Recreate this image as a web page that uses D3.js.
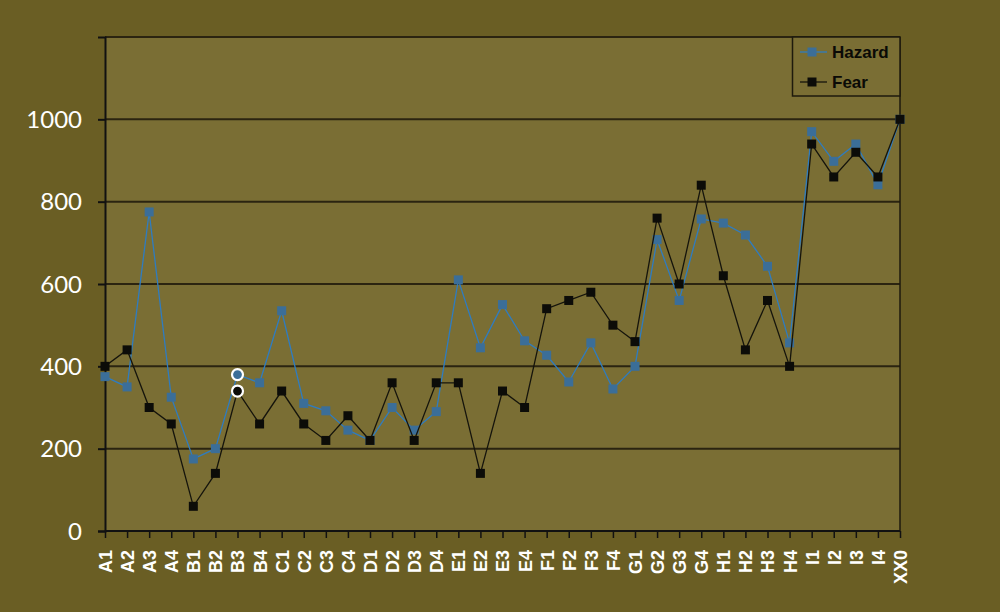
<!DOCTYPE html>
<html><head><meta charset="utf-8">
<script src="https://cdn.jsdelivr.net/npm/d3@7"></script>
<style>
html,body{margin:0;padding:0;background:#6a5e24;}
svg{display:block;}
</style></head>
<body>
<svg id="chart" width="1000" height="612"></svg>
<script>
const categories = ["A1","A2","A3","A4","B1","B2","B3","B4","C1","C2","C3","C4","D1","D2","D3","D4","E1","E2","E3","E4","F1","F2","F3","F4","G1","G2","G3","G4","H1","H2","H3","H4","I1","I2","I3","I4","XX0"];
const hazard = [375,350,775,325,175,200,380,360,535,310,292,245,220,300,245,290,610,445,550,462,427,362,457,345,400,708,560,758,748,719,643,457,970,898,940,841,1000];
const fear = [400,440,300,260,60,140,340,260,340,260,220,280,220,360,220,360,360,140,340,300,540,560,580,500,460,760,600,840,620,440,560,400,940,860,920,860,1000];
const yTicks = [0,200,400,600,800,1000];
const highlighted = ["B3"];
const seriesNames = ["Hazard","Fear"];

const svg = d3.select("#chart");
const L = 105, R = 900, T = 37, B = 531;
const x = d3.scalePoint().domain(categories).range([L, R]);
const y = d3.scaleLinear().domain([0, 1200]).range([B, T]);

svg.append("rect").attr("width",1000).attr("height",612).attr("fill","#6a5e24");
svg.append("rect").attr("x",L).attr("y",T).attr("width",R-L).attr("height",B-T).attr("fill","#7a6e34");

// gridlines
svg.append("g").selectAll("line").data(yTicks.filter(d=>d>0).concat([1200])).join("line")
  .attr("x1",L).attr("x2",R).attr("y1",d=>y(d)).attr("y2",d=>y(d))
  .attr("stroke","#2b2410").attr("stroke-width",2);
// right border
svg.append("line").attr("x1",R).attr("x2",R).attr("y1",T).attr("y2",B).attr("stroke","#1e1a0c").attr("stroke-width",1.5);

// y axis
const yAxis = svg.append("g").attr("transform",`translate(${L},0)`)
  .call(d3.axisLeft(y).tickValues(yTicks).tickSize(7).tickPadding(16).tickFormat(d3.format("d")));
yAxis.select(".domain").attr("stroke","#111").attr("stroke-width",2);
yAxis.selectAll(".tick line").attr("stroke","#111").attr("stroke-width",2);
yAxis.selectAll("text").attr("fill","#ffffff").attr("font-family","Lato, 'Open Sans', sans-serif")
  .attr("font-size",24).attr("dy","0.34em");

// x axis
const xAxis = svg.append("g").attr("transform",`translate(0,${B})`)
  .call(d3.axisBottom(x).tickSize(7).tickPadding(0));
xAxis.select(".domain").attr("stroke","#111").attr("stroke-width",2).attr("d",`M${L},0H${R}`);
xAxis.selectAll(".tick line").attr("stroke","#111").attr("stroke-width",1.5);
xAxis.selectAll("text")
  .attr("fill","#ffffff").attr("font-family","'Liberation Sans', Arial, sans-serif").attr("font-weight","bold")
  .attr("font-size",18).attr("text-anchor","end")
  .attr("transform","rotate(-90)").attr("x",-19).attr("y",0).attr("dy","0.36em");

// lines
const line = d3.line().x((d,i)=>x(categories[i])).y(d=>y(d));
function drawSeries(values, lineColor, markerColor, size){
  const g = svg.append("g");
  g.append("path").datum(values).attr("d",line).attr("fill","none").attr("stroke",lineColor).attr("stroke-width",1.3);
  g.selectAll("rect").data(values.map((v,i)=>({v,c:categories[i]})).filter(d=>!highlighted.includes(d.c))).join("rect")
    .attr("x",d=>x(d.c)-size/2).attr("y",d=>y(d.v)-size/2).attr("width",size).attr("height",size).attr("fill",markerColor);
  g.selectAll("circle").data(values.map((v,i)=>({v,c:categories[i]})).filter(d=>highlighted.includes(d.c))).join("circle")
    .attr("cx",d=>x(d.c)).attr("cy",d=>y(d.v)).attr("r",5.5).attr("fill",markerColor).attr("stroke","#ffffff").attr("stroke-width",2.2);
}
drawSeries(hazard, "#2f7cc0", "#3b6e98", 9);
drawSeries(fear, "#15140c", "#0c0c08", 9);

// legend
const lg = svg.append("g");
lg.append("rect").attr("x",792.5).attr("y",37).attr("width",R-792.5).attr("height",59)
  .attr("fill","#7a6e34").attr("stroke","#1e1a0c").attr("stroke-width",1.5);
const legendItems = [
  {name: seriesNames[0], line:"#2f7cc0", marker:"#3b6e98", yy:52},
  {name: seriesNames[1], line:"#15140c", marker:"#0c0c08", yy:82}
];
legendItems.forEach(it=>{
  lg.append("line").attr("x1",800).attr("x2",827).attr("y1",it.yy).attr("y2",it.yy).attr("stroke",it.line).attr("stroke-width",1.3);
  lg.append("rect").attr("x",812-4.5).attr("y",it.yy-4.5).attr("width",9).attr("height",9).attr("fill",it.marker);
  lg.append("text").attr("x",832).attr("y",it.yy).attr("dy","0.36em").text(it.name)
    .attr("font-family","'Liberation Sans', Arial, sans-serif").attr("font-weight","bold").attr("font-size",17).attr("fill","#0a0a06");
});
</script>
</body></html>
